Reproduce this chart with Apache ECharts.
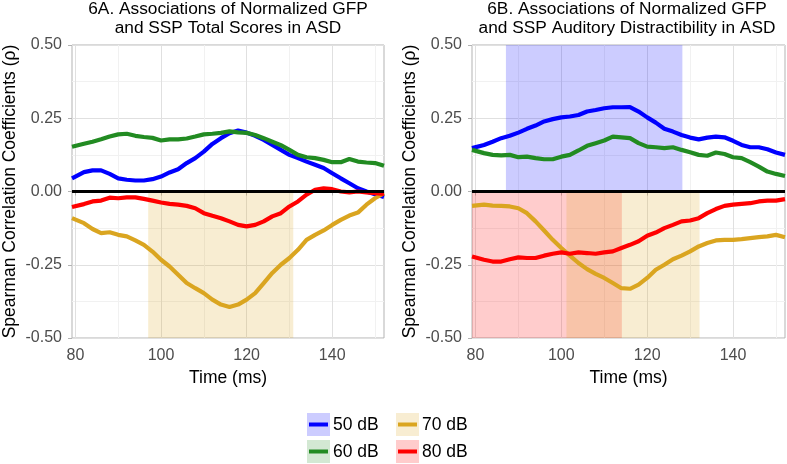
<!DOCTYPE html>
<html>
<head>
<meta charset="utf-8">
<script src="https://cdn.jsdelivr.net/npm/echarts@6/dist/echarts.min.js"></script>
<style>
html,body{margin:0;padding:0;background:#fff;}
#chart{width:787px;height:464px;}
</style>
</head>
<body>
<div id="chart"></div>
<script>
// ---- Data ----
const times = [79.2, 82, 84, 86, 88, 90, 92, 94, 96, 98, 100, 102, 104, 106, 108, 110, 112, 114, 116, 118, 120,
  122, 124, 126, 128, 130, 132, 134, 136, 138, 140, 142, 144, 146, 148, 150, 152.1];

// Panel 6A
const a50 = [0.045, 0.066, 0.072, 0.072, 0.060, 0.045, 0.040, 0.0375, 0.0375, 0.042, 0.051, 0.065, 0.076, 0.097, 0.114, 0.136, 0.1625, 0.182, 0.199, 0.208, 0.201,
  0.190, 0.176, 0.159, 0.142, 0.125, 0.114, 0.102, 0.091, 0.080, 0.0625, 0.045, 0.028, 0.011, 0.000, -0.009, -0.019];
const a60 = [0.153, 0.163, 0.170, 0.178, 0.1875, 0.195, 0.197, 0.190, 0.186, 0.183, 0.174, 0.178, 0.178, 0.181, 0.1875, 0.195, 0.197, 0.200, 0.205, 0.202, 0.200,
  0.193, 0.182, 0.170, 0.158, 0.142, 0.125, 0.117, 0.114, 0.108, 0.100, 0.100, 0.111, 0.102, 0.099, 0.097, 0.0875];
const a70 = [-0.091, -0.108, -0.128, -0.142, -0.139, -0.148, -0.153, -0.167, -0.182, -0.205, -0.233, -0.256, -0.284, -0.3125, -0.330, -0.347, -0.369, -0.386, -0.394, -0.386, -0.369,
  -0.347, -0.3125, -0.278, -0.250, -0.227, -0.199, -0.165, -0.148, -0.133, -0.114, -0.097, -0.082, -0.072, -0.045, -0.023, -0.006];
const a80 = [-0.053, -0.043, -0.034, -0.031, -0.021, -0.023, -0.020, -0.020, -0.025, -0.031, -0.0375, -0.042, -0.045, -0.049, -0.057, -0.074, -0.083, -0.091, -0.102, -0.114, -0.119,
  -0.114, -0.102, -0.085, -0.074, -0.051, -0.034, -0.011, 0.006, 0.011, 0.008, 0.000, -0.003, 0.000, -0.003, -0.006, -0.008];

// Panel 6B
const b50 = [0.148, 0.159, 0.170, 0.182, 0.190, 0.201, 0.214, 0.225, 0.239, 0.247, 0.253, 0.256, 0.261, 0.273, 0.278, 0.284, 0.2875, 0.2875, 0.288, 0.273, 0.253,
  0.235, 0.214, 0.2045, 0.193, 0.184, 0.178, 0.184, 0.1875, 0.185, 0.173, 0.159, 0.151, 0.151, 0.144, 0.133, 0.125];
const b60 = [0.142, 0.131, 0.125, 0.123, 0.125, 0.117, 0.119, 0.114, 0.110, 0.110, 0.119, 0.125, 0.140, 0.156, 0.165, 0.174, 0.1875, 0.185, 0.182, 0.165, 0.153,
  0.151, 0.148, 0.151, 0.142, 0.134, 0.125, 0.122, 0.133, 0.128, 0.117, 0.114, 0.100, 0.085, 0.068, 0.060, 0.053];
const b70 = [-0.049, -0.045, -0.048, -0.049, -0.051, -0.057, -0.074, -0.102, -0.133, -0.165, -0.193, -0.219, -0.244, -0.265, -0.281, -0.295, -0.3125, -0.330, -0.332, -0.318, -0.295,
  -0.267, -0.250, -0.231, -0.219, -0.2045, -0.1875, -0.176, -0.167, -0.165, -0.165, -0.1625, -0.159, -0.156, -0.153, -0.148, -0.156];
const b80 = [-0.222, -0.233, -0.239, -0.239, -0.231, -0.225, -0.227, -0.227, -0.219, -0.2125, -0.208, -0.2125, -0.208, -0.210, -0.2125, -0.208, -0.2045, -0.193, -0.182, -0.170, -0.151,
  -0.140, -0.125, -0.114, -0.102, -0.099, -0.091, -0.074, -0.060, -0.049, -0.045, -0.042, -0.040, -0.034, -0.031, -0.031, -0.026];

// Significance bands [start ms, end ms]
const bandA70 = [97.0, 130.9];
const bandB50 = [87.1, 128.2];
const bandB80 = [79.2, 114.1];
const bandB70 = [101.2, 132.2];

const xRange = [79.2, 152.1];
const xMajor = [80, 100, 120, 140];
const xMinor = [90, 110, 130, 150];
const levels = ['50 dB', '60 dB', '70 dB', '80 dB'];
const titlesA = ['6A. Associations of Normalized GFP', 'and SSP Total Scores in ASD'];
const titlesB = ['6B. Associations of Normalized GFP', 'and SSP Auditory Distractibility in ASD'];

// ---- Styling ----
const FONT = "'Liberation Sans', Arial, sans-serif";
const FS = 17.5;      // axis titles, legend
const FS_TICK = 16;   // tick labels
const FS_TITLE = 17.3;  // panel titles
const lineColors = ['#0000FF', '#228B22', '#DAA520', '#FF0000'];
const bandColors = ['rgba(0,0,255,0.2)', 'rgba(34,139,34,0.2)', 'rgba(218,165,32,0.2)', 'rgba(255,0,0,0.2)'];

const grids = [
  {left: 72, top: 45, width: 312, height: 293, show: true, borderColor: '#b3b3b3', borderWidth: 1, backgroundColor: 'transparent'},
  {left: 472, top: 45, width: 313, height: 293, show: true, borderColor: '#b3b3b3', borderWidth: 1, backgroundColor: 'transparent'}
];

function xMajorAxis(gi) {
  return {
    type: 'value', gridIndex: gi, min: xRange[0], max: xRange[1], position: 'bottom',
    axisLine: {show: false},
    axisTick: {show: true, length: 4, lineStyle: {color: '#b3b3b3'}, customValues: xMajor},
    axisLabel: {customValues: xMajor, fontSize: FS_TICK, color: '#4d4d4d', fontFamily: FONT, margin: 10},
    splitLine: {show: true, lineStyle: {color: '#e0e0e0', width: 1}},
    name: 'Time (ms)', nameLocation: 'middle', nameGap: 27,
    nameTextStyle: {fontSize: FS, color: '#000', fontFamily: FONT}
  };
}
function xMinorAxis(gi) {
  return {
    type: 'value', gridIndex: gi, min: xRange[0], max: xRange[1], position: 'top',
    axisLine: {show: false},
    axisTick: {show: false, customValues: xMinor},
    axisLabel: {show: false, customValues: xMinor},
    splitLine: {show: true, lineStyle: {color: '#f1f1f1', width: 1}}
  };
}
function yAxis(gi) {
  return {
    type: 'value', gridIndex: gi, min: -0.5, max: 0.5, interval: 0.25,
    axisLine: {show: false},
    axisTick: {show: true, length: 4, lineStyle: {color: '#b3b3b3'}},
    axisLabel: {formatter: v => v.toFixed(2), fontSize: FS_TICK, color: '#4d4d4d', fontFamily: FONT, margin: 10},
    splitLine: {show: true, lineStyle: {color: '#e0e0e0', width: 1}},
    minorTick: {show: false, splitNumber: 2},
    minorSplitLine: {show: true, lineStyle: {color: '#f1f1f1', width: 1}},
    name: 'Spearman Correlation Coefficients (ρ)', nameLocation: 'middle', nameGap: 53,
    nameTextStyle: {fontSize: FS, color: '#000', fontFamily: FONT}
  };
}

function lineSeries(gi, vals, ci) {
  return {
    type: 'line', xAxisIndex: gi * 2, yAxisIndex: gi, z: 2,
    data: times.map((t, i) => [t, vals[i]]),
    showSymbol: false, symbol: 'none', silent: true,
    lineStyle: {color: lineColors[ci], width: 4.2},
    itemStyle: {color: lineColors[ci]}
  };
}
function bandSeries(gi, band, ci, top, bottom, z) {
  return {
    type: 'line', xAxisIndex: gi * 2, yAxisIndex: gi, z: z, data: [], silent: true,
    markArea: {
      silent: true,
      itemStyle: {color: bandColors[ci]},
      data: [[{xAxis: band[0], yAxis: top}, {xAxis: band[1], yAxis: bottom}]]
    }
  };
}
function zeroSeries(gi) {
  return {
    type: 'line', xAxisIndex: gi * 2, yAxisIndex: gi, z: 6, data: [], silent: true,
    markLine: {
      silent: true, symbol: 'none', label: {show: false},
      lineStyle: {color: '#000', width: 3, type: 'solid'},
      data: [{yAxis: 0}]
    }
  };
}

const series = [
  lineSeries(0, a50, 0), lineSeries(0, a60, 1), lineSeries(0, a70, 2), lineSeries(0, a80, 3),
  bandSeries(0, bandA70, 2, 0, -0.5, 3),
  zeroSeries(0),
  lineSeries(1, b50, 0), lineSeries(1, b60, 1), lineSeries(1, b70, 2), lineSeries(1, b80, 3),
  bandSeries(1, bandB50, 0, 0.5, 0, 3),
  bandSeries(1, bandB80, 3, 0, -0.5, 4),
  bandSeries(1, bandB70, 2, 0, -0.5, 3),
  zeroSeries(1)
];

// Titles and legend as graphic text
const graphic = [];
function addTitle(lines, cx) {
  graphic.push({type: 'text', x: cx, y: 9.5, style: {text: lines[0], font: FS_TITLE + 'px ' + FONT, fill: '#000', textAlign: 'center', textVerticalAlign: 'middle'}});
  graphic.push({type: 'text', x: cx, y: 28, style: {text: lines[1], font: FS_TITLE + 'px ' + FONT, fill: '#000', textAlign: 'center', textVerticalAlign: 'middle'}});
}
addTitle(titlesA, 228);
addTitle(titlesB, 627);

const legendPos = [[307, 413], [307, 440], [396, 413], [396, 440]];
levels.forEach((lab, i) => {
  const [lx, ly] = legendPos[i];
  graphic.push({type: 'rect', shape: {x: lx, y: ly, width: 23, height: 23}, style: {fill: bandColors[i]}});
  graphic.push({type: 'line', shape: {x1: lx + 2, y1: ly + 11.5, x2: lx + 21, y2: ly + 11.5}, style: {stroke: lineColors[i], lineWidth: 4}});
  graphic.push({type: 'text', x: lx + 26, y: ly + 12, style: {text: lab, font: FS + 'px ' + FONT, fill: '#000', textVerticalAlign: 'middle'}});
});

const chart = echarts.init(document.getElementById('chart'), null, {renderer: 'canvas'});
chart.setOption({
  animation: false,
  backgroundColor: '#fff',
  grid: grids,
  xAxis: [xMajorAxis(0), xMinorAxis(0), xMajorAxis(1), xMinorAxis(1)],
  yAxis: [yAxis(0), yAxis(1)],
  series: series,
  graphic: graphic
});
</script>
</body>
</html>
